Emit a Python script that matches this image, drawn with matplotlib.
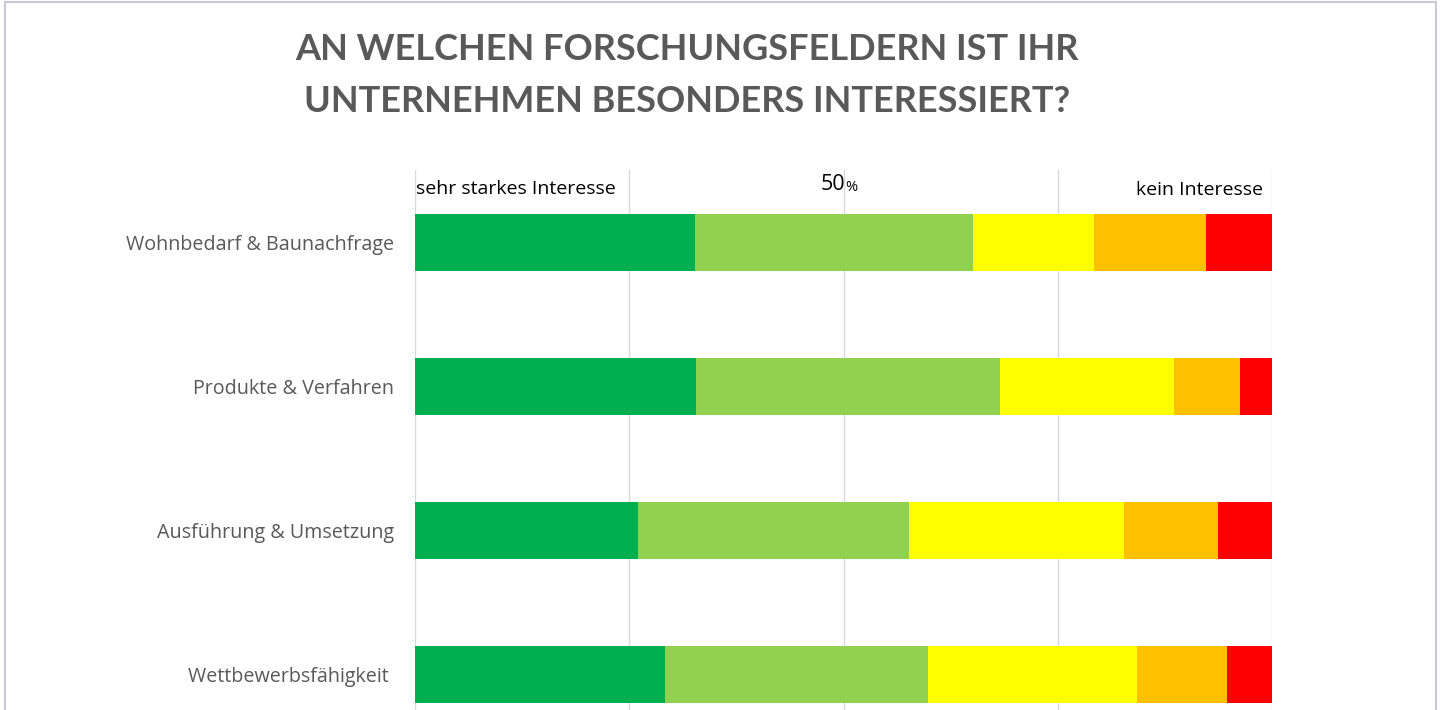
import matplotlib
matplotlib.use("Agg")
import matplotlib.pyplot as plt
from matplotlib.lines import Line2D
import numpy as np

categories = ["Wohnbedarf & Baunachfrage", "Produkte & Verfahren",
              "Ausführung & Umsetzung", "Wettbewerbsfähigkeit "]
level_names = ["sehr starkes Interesse", "starkes Interesse", "mittleres Interesse",
               "geringes Interesse", "kein Interesse"]
values = {
    "sehr starkes Interesse": [32.7, 32.8, 26.0, 29.2],
    "starkes Interesse":      [32.4, 35.5, 31.6, 30.7],
    "mittleres Interesse":    [14.1, 20.3, 25.1, 24.3],
    "geringes Interesse":     [13.1, 7.7, 11.0, 10.5],
    "kein Interesse":         [7.7, 3.7, 6.3, 5.3],
}
colors = ["#00B050", "#92D050", "#FFFF00", "#FFC000", "#FF0000"]
gridticks = [0, 25, 50, 75, 100]
title = "AN WELCHEN FORSCHUNGSFELDERN IST IHR\nUNTERNEHMEN BESONDERS INTERESSIERT?"

W, H = 1445, 710
fig = plt.figure(figsize=(W / 100, H / 100), dpi=100)
plt.rcParams['font.family'] = ['Open Sans', 'DejaVu Sans']

ax = fig.add_axes([415 / W, 0, (1272 - 415) / W, (710 - 170) / H])
ax.set_xlim(0, 100)
ax.set_ylim(3.247, -0.503)

for g in gridticks:
    ax.axvline(g, color="#d9d9d9", lw=1.0, zorder=0)

y = np.arange(len(categories))
left = np.zeros(len(categories))
for name, c in zip(level_names, colors):
    v = np.array(values[name])
    ax.barh(y, v, left=left, height=0.396, color=c, edgecolor="none", zorder=2)
    left += v

ax.set_yticks(y)
ax.set_yticklabels(categories, fontsize=14.2, color="#595959")
ax.tick_params(axis="y", length=0, pad=15)
ax.set_xticks([])
for s in ax.spines.values():
    s.set_visible(False)

tr = ax.get_xaxis_transform()
ax.text(0.1, 0.965, "sehr starkes Interesse", transform=tr, ha="left", va="center",
        fontsize=14, color="black")
ax.text(100 - 1.1, 0.963, "kein Interesse", transform=tr, ha="right", va="center",
        fontsize=14, color="black")
ax.text(50.15, 0.974, "50", transform=tr, ha="right", va="center", fontsize=15.5, color="black")
ax.text(50.2, 0.967, "%", transform=tr, ha="left", va="center", fontsize=10.5, color="black")

fig.text(687 / W, 1 - 75.5 / H, title, ha="center", va="center", fontsize=26,
         fontweight="bold", color="#595959", linespacing=1.7, family=['Lato', 'DejaVu Sans'])

# outer border (top, left, right)
bc = "#c9c9d6"
fig.add_artist(Line2D([5 / W, 5 / W], [0, 1 - 2 / H], color=bc, lw=1.5, transform=fig.transFigure))
fig.add_artist(Line2D([1436 / W, 1436 / W], [0, 1 - 2 / H], color=bc, lw=1.5, transform=fig.transFigure))
fig.add_artist(Line2D([5 / W, 1436 / W], [1 - 2 / H, 1 - 2 / H], color=bc, lw=1.5, transform=fig.transFigure))

fig.savefig("out.png", dpi=100)
